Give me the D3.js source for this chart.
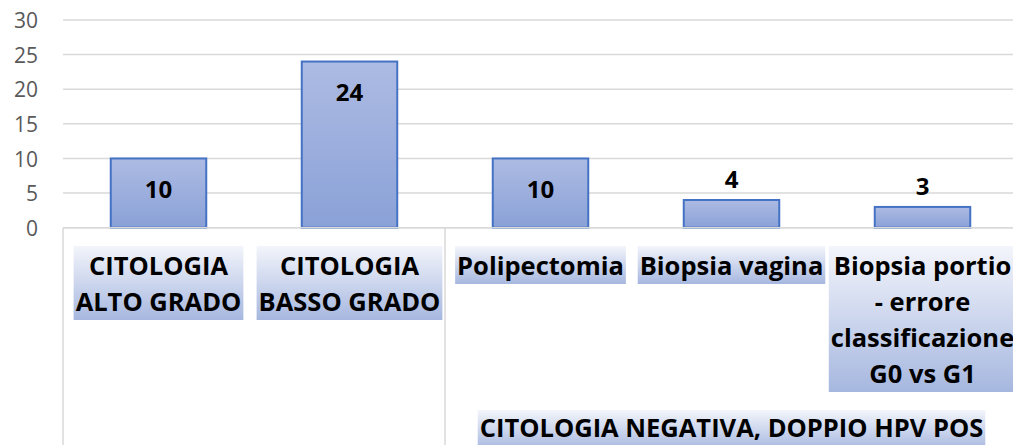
<!DOCTYPE html>
<html>
<head>
<meta charset="utf-8">
<script src="https://cdn.jsdelivr.net/npm/d3@7"></script>
<style>
  html, body { margin: 0; padding: 0; background: #fff; overflow: hidden; }
  svg { display: block; }
</style>
</head>
<body>
<svg id="chart" width="1013" height="445"></svg>
<script>
// ---- data ----
const categories = ["CITOLOGIA ALTO GRADO", "CITOLOGIA BASSO GRADO", "Polipectomia", "Biopsia vagina", "Biopsia portio - errore classificazione G0 vs G1"];
const categoryLines = [
  ["CITOLOGIA", "ALTO GRADO"],
  ["CITOLOGIA", "BASSO GRADO"],
  ["Polipectomia"],
  ["Biopsia vagina"],
  ["Biopsia portio", "- errore", "classificazione", "G0 vs G1"]
];
const values = [10, 24, 10, 4, 3];
const groupLabels = ["", "CITOLOGIA NEGATIVA, DOPPIO HPV POS"];
const groupSpans = [2, 3];
const yTicks = [0, 5, 10, 15, 20, 25, 30];

// ---- layout ----
const W = 1013, H = 445;
const plotLeft = 63, plotRight = 1018, plotTop = 20, plotBottom = 227.7;
const FONT = "'Open Sans', 'Liberation Sans', sans-serif";

const svg = d3.select("#chart");
const defs = svg.append("defs");

const gBar = defs.append("linearGradient").attr("id", "barGrad").attr("x1", 0).attr("y1", 0).attr("x2", 0).attr("y2", 1);
gBar.append("stop").attr("offset", "0%").attr("stop-color", "#adbbe3");
gBar.append("stop").attr("offset", "100%").attr("stop-color", "#8aa1d7");

const gLab = defs.append("linearGradient").attr("id", "labGrad").attr("x1", 0).attr("y1", 0).attr("x2", 0).attr("y2", 1);
gLab.append("stop").attr("offset", "0%").attr("stop-color", "#f3f5fb");
gLab.append("stop").attr("offset", "100%").attr("stop-color", "#a6b7df");

const x = d3.scaleBand().domain(categories).range([plotLeft, plotRight]).paddingInner(0.5).paddingOuter(0.25);
const y = d3.scaleLinear().domain([0, 30]).range([plotBottom, plotTop]);

// gridlines
svg.append("g").selectAll("line").data(yTicks).join("line")
  .attr("x1", plotLeft).attr("x2", plotRight)
  .attr("y1", d => y(d)).attr("y2", d => y(d))
  .attr("stroke", "#d9d9d9").attr("stroke-width", 1.5);

// y axis labels
const yAxis = d3.axisLeft(y).tickValues(yTicks).tickSize(0).tickPadding(0);
const yg = svg.append("g").attr("transform", "translate(38,0)").call(yAxis);
yg.select(".domain").remove();
yg.selectAll("text").attr("font-family", FONT).attr("font-size", 21).attr("fill", "#595959").attr("dy", "0.36em");

// bars
svg.append("g").selectAll("rect").data(categories).join("rect")
  .attr("x", d => x(d)).attr("width", x.bandwidth())
  .attr("y", (d, i) => y(values[i]))
  .attr("height", (d, i) => y(0) - y(values[i]))
  .attr("fill", "url(#barGrad)").attr("stroke", "#4472c4").attr("stroke-width", 2);

// value labels
svg.append("g").selectAll("text").data(categories).join("text")
  .attr("x", d => x(d) + x.bandwidth() / 2)
  .attr("y", (d, i) => {
    const top = y(values[i]);
    const h = y(0) - top;
    return h > 45 ? top + 39.5 : top - 12;
  })
  .attr("text-anchor", "middle")
  .attr("font-family", FONT).attr("font-weight", "bold").attr("font-size", 24).attr("fill", "#000")
  .text((d, i) => values[i]);

// category axis lines
svg.append("line").attr("x1", plotLeft).attr("x2", plotRight).attr("y1", plotBottom).attr("y2", plotBottom)
  .attr("stroke", "#d9d9d9").attr("stroke-width", 1.5);
const step = x.step();
let acc = 0;
const sepX = [plotLeft];
groupSpans.forEach(s => { acc += s; sepX.push(plotLeft + acc * step); });
svg.append("g").selectAll("line").data(sepX).join("line")
  .attr("x1", d => d).attr("x2", d => d).attr("y1", plotBottom).attr("y2", H)
  .attr("stroke", "#d9d9d9").attr("stroke-width", 1.5);

// category labels with gradient boxes
const firstBase = 275, lineH = 36;
const catG = svg.append("g");
categories.forEach((c, i) => {
  const cx = x(c) + x.bandwidth() / 2;
  const g = catG.append("g");
  const rect = g.append("rect");
  const t = g.append("text").attr("text-anchor", "middle")
    .attr("font-family", FONT).attr("font-weight", "bold").attr("font-size", 25.5).attr("fill", "#000");
  categoryLines[i].forEach((ln, k) => {
    t.append("tspan").attr("x", cx).attr("y", firstBase + k * lineH).text(ln);
  });
  let maxW = 0;
  t.selectAll("tspan").each(function () { maxW = Math.max(maxW, this.getComputedTextLength()); });
  const n = categoryLines[i].length;
  rect.attr("x", cx - maxW / 2 - 2).attr("width", maxW + 4)
    .attr("y", firstBase - 29).attr("height", (n - 1) * lineH + 29 + 9)
    .attr("fill", "url(#labGrad)");
});

// group labels
acc = 0;
groupLabels.forEach((gl, gi) => {
  const start = acc; acc += groupSpans[gi];
  if (!gl) return;
  const cx = plotLeft + (start + groupSpans[gi] / 2) * step;
  const g = svg.append("g");
  const rect = g.append("rect");
  const t = g.append("text").attr("x", cx).attr("y", 437).attr("text-anchor", "middle")
    .attr("font-family", FONT).attr("font-weight", "bold").attr("font-size", 25.5).attr("fill", "#000").text(gl);
  const w = t.node().getComputedTextLength();
  rect.attr("x", cx - w / 2 - 2).attr("width", w + 4).attr("y", 437 - 27).attr("height", 40).attr("fill", "url(#labGrad)");
});
</script>
</body>
</html>
